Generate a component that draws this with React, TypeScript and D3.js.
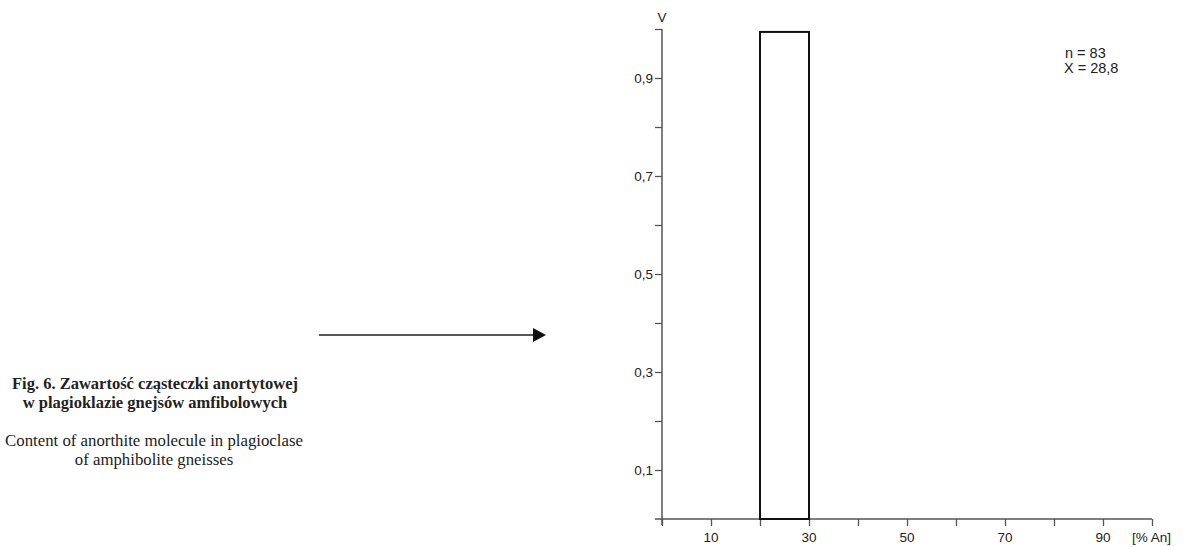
import React, { useRef, useEffect } from "react";
import * as d3 from "d3";

// histogram classes [% An] and frequency V
const binStarts = [20];
const binWidth = 10;
const freqs = [0.994];
const yTicks = [0.1, 0.2, 0.3, 0.4, 0.5, 0.6, 0.7, 0.8, 0.9, 1.0];
const yLabelled = [0.1, 0.3, 0.5, 0.7, 0.9];
const xTicks = [0, 10, 20, 30, 40, 50, 60, 70, 80, 90, 100];
const xLabelled = [10, 30, 50, 70, 90];
const stats = ["n = 83", "X = 28,8"];
const captionPl = ["Fig. 6. Zawartość cząsteczki anortytowej", "w plagioklazie gnejsów amfibolowych"];
const captionEn = ["Content of anorthite molecule in plagioclase", "of amphibolite gneisses"];

const App = () => {
	const ref = useRef<SVGSVGElement>(null);
	const width = 1189;
	const height = 547;

	useEffect(() => {
		const svg = d3.select(ref.current);
		svg.selectAll("*").remove();

		const x = d3.scaleLinear().domain([0, 100]).range([662, 1152]);
		const y = d3.scaleLinear().domain([0, 1]).range([519, 29]);
		const axisColor = "#555";
		const textColor = "#222";
		const sans = "Liberation Sans, Arial, sans-serif";

		// y axis
		const gy = svg.append("g").attr("transform", `translate(${x(0)},0)`);
		gy.call(d3.axisLeft(y).tickValues(yTicks).tickSize(7).tickSizeOuter(0).tickFormat(() => ""));
		gy.select(".domain").attr("stroke", axisColor).attr("stroke-width", 1.5)
			.attr("d", `M0,${y(0) + 6}V${y(1)}`);
		gy.selectAll(".tick line").attr("stroke", axisColor).attr("stroke-width", 1.3);
		gy.selectAll(".tick text").remove();
		yLabelled.forEach((v) => {
			svg.append("text")
				.attr("x", x(0) - 9)
				.attr("y", y(v))
				.attr("dy", "0.35em")
				.attr("text-anchor", "end")
				.attr("font-family", sans)
				.attr("font-size", 13.5)
				.attr("fill", textColor)
				.text(d3.format(".1f")(v).replace(".", ","));
		});
		svg.append("text")
			.attr("x", x(0))
			.attr("y", y(1) - 12)
			.attr("dy", "0.35em")
			.attr("text-anchor", "middle")
			.attr("font-family", sans)
			.attr("font-size", 13.5)
			.attr("fill", textColor)
			.text("V");

		// x axis
		const gx = svg.append("g").attr("transform", `translate(0,${y(0)})`);
		gx.call(d3.axisBottom(x).tickValues(xTicks).tickSize(7).tickSizeOuter(0).tickFormat(() => ""));
		gx.select(".domain").attr("stroke", axisColor).attr("stroke-width", 1.5)
			.attr("d", `M${x(0) - 7},0H${x(100)}`);
		gx.selectAll(".tick line").attr("stroke", axisColor).attr("stroke-width", 1.3);
		gx.selectAll(".tick text").remove();
		xLabelled.forEach((v) => {
			svg.append("text")
				.attr("x", x(v))
				.attr("y", y(0) + 18)
				.attr("dy", "0.35em")
				.attr("text-anchor", "middle")
				.attr("font-family", sans)
				.attr("font-size", 13.5)
				.attr("fill", textColor)
				.text(v);
		});
		svg.append("text")
			.attr("x", x(100) - 20)
			.attr("y", y(0) + 18)
			.attr("dy", "0.35em")
			.attr("font-family", sans)
			.attr("font-size", 13.5)
			.attr("fill", textColor)
			.text("[% An]");

		// bars
		svg.selectAll(".bar")
			.data(binStarts.map((s, i) => ({ s, f: freqs[i] })))
			.enter()
			.append("rect")
			.attr("class", "bar")
			.attr("x", (d) => x(d.s))
			.attr("y", (d) => y(d.f))
			.attr("width", (d) => x(d.s + binWidth) - x(d.s))
			.attr("height", (d) => y(0) - y(d.f))
			.attr("fill", "none")
			.attr("stroke", "#111")
			.attr("stroke-width", 2);

		// stats
		svg.append("text")
			.attr("font-family", sans)
			.attr("font-size", 14.5)
			.attr("fill", textColor)
			.selectAll("tspan")
			.data(stats)
			.enter()
			.append("tspan")
			.attr("x", (d, i) => (i === 0 ? 1065 : 1064))
			.attr("y", (d, i) => 57.5 + i * 15.5)
			.text((d) => d);

		// arrow
		svg.append("line")
			.attr("x1", 319).attr("y1", 335).attr("x2", 535).attr("y2", 335)
			.attr("stroke", "#222").attr("stroke-width", 1.5);
		svg.append("path")
			.attr("d", "M533,328L546,335L533,342Z")
			.attr("fill", "#111");

		// caption
		const cap = svg.append("text")
			.attr("text-anchor", "middle")
			.attr("font-family", "Liberation Serif, Times New Roman, serif")
			.attr("fill", textColor);
		captionPl.forEach((t, i) => {
			cap.append("tspan").attr("x", 155).attr("y", 389 + i * 19)
				.attr("font-weight", "bold").attr("font-size", 16.5).text(t);
		});
		captionEn.forEach((t, i) => {
			cap.append("tspan").attr("x", 154).attr("y", 446 + i * 19)
				.attr("font-size", 16.8).text(t);
		});
	}, []);

	return (
		<div style={{ position: "absolute", left: 0, top: 0 }}>
			<svg ref={ref} width={width} height={height} style={{ display: "block", background: "#fff" }} />
		</div>
	);
};

export default App;
